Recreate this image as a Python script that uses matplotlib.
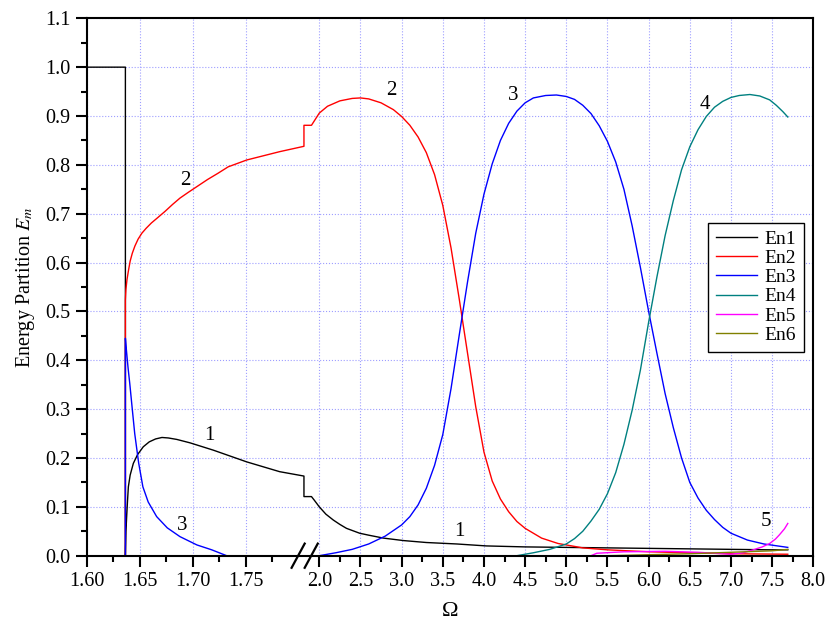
import numpy as np
import matplotlib
matplotlib.use("Agg")
import matplotlib.pyplot as plt
from matplotlib.ticker import FixedLocator

plt.rcParams['font.family'] = ['Liberation Serif', 'DejaVu Serif']
plt.rcParams['mathtext.fontset'] = 'stix'

# --- data ---
en1_x = [1.60, 1.6365, 1.6365, 1.6370, 1.6377, 1.6385, 1.6393, 1.641, 1.644, 1.648, 1.6534,
         1.659, 1.665, 1.671, 1.677, 1.685, 1.6975, 1.7195, 1.751, 1.782, 1.851, 1.851, 1.924,
         1.95, 1.975, 2.0, 2.08, 2.17, 2.25, 2.33, 2.49, 2.6, 2.78, 3.02, 3.30, 3.67, 4.03,
         4.5, 5.0, 5.5, 6.0, 6.5, 7.0, 7.5, 7.69]
en1_y = [1.0, 1.0, 0.0, 0.05, 0.08, 0.112, 0.141, 0.165, 0.189, 0.207, 0.223,
         0.233, 0.239, 0.242, 0.241, 0.238, 0.231, 0.216, 0.192, 0.172, 0.163, 0.121, 0.121,
         0.114, 0.107, 0.10, 0.085, 0.073, 0.064, 0.056, 0.046, 0.042, 0.036, 0.031, 0.027, 0.024, 0.020,
         0.018, 0.017, 0.016, 0.015, 0.014, 0.013, 0.012, 0.012]

en2_x = [1.60, 1.6365, 1.6365, 1.6370, 1.6380, 1.6395, 1.6410, 1.643, 1.6455, 1.6485, 1.652,
         1.656, 1.661, 1.667, 1.674, 1.681, 1.688, 1.696, 1.705, 1.714, 1.724, 1.7335, 1.751,
         1.782, 1.851, 1.851, 1.924, 2.0, 2.1, 2.25, 2.4, 2.5, 2.6, 2.75, 2.9, 3.0, 3.1, 3.2,
         3.3, 3.4, 3.5, 3.6, 3.7, 3.8, 3.9, 4.0, 4.1, 4.2, 4.3, 4.4, 4.5, 4.7, 4.9, 5.2, 5.5,
         6.0, 6.5, 7.0, 7.69]
en2_y = [0.0, 0.0, 0.523, 0.545, 0.565, 0.585, 0.603, 0.619, 0.634, 0.648, 0.660,
         0.670, 0.681, 0.692, 0.705, 0.719, 0.732, 0.744, 0.757, 0.770, 0.783, 0.796, 0.810,
         0.827, 0.838, 0.881, 0.881, 0.906, 0.920, 0.931, 0.936, 0.937, 0.935, 0.927, 0.913, 0.899, 0.881, 0.857,
         0.825, 0.780, 0.717, 0.630, 0.525, 0.415, 0.305, 0.212, 0.153, 0.116, 0.090, 0.070, 0.056, 0.036, 0.025, 0.016, 0.012,
         0.008, 0.006, 0.004, 0.003]

en3_x = [1.60, 1.6365, 1.6365, 1.6375, 1.639, 1.6406, 1.643, 1.6453, 1.649, 1.653, 1.658,
         1.666, 1.676, 1.688, 1.704, 1.718, 1.732, 2.0, 2.2, 2.4, 2.6, 2.8, 3.0, 3.1, 3.2, 3.3,
         3.4, 3.5, 3.6, 3.7, 3.8, 3.9, 4.0, 4.1, 4.2, 4.3, 4.4, 4.5, 4.6, 4.75, 4.88, 5.0, 5.1,
         5.2, 5.3, 5.4, 5.5, 5.6, 5.7, 5.8, 5.9, 6.0, 6.1, 6.2, 6.3, 6.4, 6.5, 6.6, 6.7, 6.8,
         6.9, 7.0, 7.2, 7.4, 7.69]
en3_y = [0.0, 0.0, 0.445, 0.42, 0.385, 0.353, 0.30, 0.25, 0.19, 0.141, 0.11,
         0.08, 0.057, 0.039, 0.022, 0.012, 0.0, 0.0, 0.006, 0.013, 0.024, 0.040, 0.063, 0.080, 0.104, 0.138,
         0.185, 0.248, 0.342, 0.452, 0.560, 0.660, 0.740, 0.802, 0.850, 0.885, 0.910, 0.927, 0.937, 0.942, 0.943, 0.940, 0.934,
         0.922, 0.905, 0.880, 0.848, 0.806, 0.750, 0.675, 0.590, 0.500, 0.415, 0.332, 0.262, 0.200, 0.150, 0.118, 0.093, 0.074,
         0.058, 0.046, 0.032, 0.024, 0.017]

en4_x = [1.60, 4.4, 4.6, 4.8, 5.0, 5.1, 5.2, 5.3, 5.4, 5.5, 5.6, 5.7, 5.8, 5.9, 6.0, 6.1,
         6.2, 6.3, 6.4, 6.5, 6.6, 6.7, 6.8, 6.9, 7.0, 7.1, 7.23, 7.35, 7.47, 7.55, 7.63, 7.69]
en4_y = [0.0, 0.0, 0.006, 0.013, 0.024, 0.035, 0.050, 0.071, 0.095, 0.127, 0.170, 0.228, 0.298, 0.380, 0.478, 0.570,
         0.655, 0.727, 0.790, 0.837, 0.872, 0.899, 0.918, 0.930, 0.938, 0.942, 0.944, 0.941, 0.933, 0.922, 0.909, 0.898]

en5_x = [1.60, 5.30, 5.37, 5.7, 6.2, 6.6, 7.0, 7.15, 7.27, 7.38, 7.47, 7.54, 7.59, 7.65, 7.69]
en5_y = [0.0, 0.0, 0.005, 0.008, 0.009, 0.007, 0.003, 0.006, 0.012, 0.018, 0.025, 0.034, 0.043, 0.055, 0.066]

en6_x = [1.60, 5.5, 6.0, 6.5, 7.0, 7.5, 7.69]
en6_y = [0.0, 0.0, 0.002, 0.004, 0.007, 0.010, 0.013]

series = [("En1", en1_x, en1_y, "black"),
          ("En2", en2_x, en2_y, "red"),
          ("En3", en3_x, en3_y, "blue"),
          ("En4", en4_x, en4_y, "#008080"),
          ("En5", en5_x, en5_y, "magenta"),
          ("En6", en6_x, en6_y, "#808000")]

# curve labels (text, x, y)
curve_labels = [("2", 1.693, 0.768), ("1", 1.716, 0.247), ("3", 1.690, 0.062),
                ("2", 2.88, 0.952), ("3", 4.35, 0.943), ("4", 6.68, 0.923),
                ("1", 3.70, 0.049), ("5", 7.43, 0.07)]

x_major = [1.60, 1.65, 1.70, 1.75, 2.0, 2.5, 3.0, 3.5, 4.0, 4.5, 5.0, 5.5, 6.0, 6.5,
           7.0, 7.5, 8.0]
x_labels = ["1.60", "1.65", "1.70", "1.75", "2.0", "2.5", "3.0", "3.5", "4.0", "4.5",
            "5.0", "5.5", "6.0", "6.5", "7.0", "7.5", "8.0"]
x_minor = [1.625, 1.675, 1.725, 1.775, 2.25, 2.75, 3.25, 3.75, 4.25, 4.75, 5.25, 5.75,
           6.25, 6.75, 7.25, 7.75]

# broken axis: piecewise linear scale
brk_data = [1.60, 1.80, 2.0, 8.0]
brk_pix = [0.0, 212.0, 232.6, 726.6]


def fwd(x):
    return np.interp(x, brk_data, brk_pix)


def inv(u):
    return np.interp(u, brk_pix, brk_data)


fig = plt.figure(figsize=(8.29, 6.25), dpi=100)
ax = fig.add_axes([86.7 / 829, 1 - 555.7 / 625, 726.6 / 829, 537.4 / 625])
ax.set_xscale('function', functions=(fwd, inv))

for name, xs, ys, c in series:
    ax.plot(xs, ys, color=c, lw=1.0, label=name)

for t, x, y in curve_labels:
    ax.text(x, y, t, fontsize=15, ha='center', va='center')

ax.set_xlim(1.60, 8.0)
ax.set_ylim(0, 1.1)
ax.xaxis.set_major_locator(FixedLocator(x_major))
ax.set_xticklabels(x_labels)
ax.xaxis.set_minor_locator(FixedLocator(x_minor))
ax.set_yticks(np.arange(0, 1.11, 0.1))
ax.set_yticklabels([f"{v:.1f}" for v in np.arange(0, 1.11, 0.1)])
ax.set_yticks(np.arange(0.05, 1.1, 0.1), minor=True)

ax.tick_params(which='major', direction='out', length=8, width=1.5, labelsize=14.5,
               top=False, right=False)
ax.tick_params(which='minor', direction='out', length=4, width=1.5, top=False, right=False)
for s in ax.spines.values():
    s.set_linewidth(1.5)

ax.grid(True, which='major', color=(0.62, 0.62, 1.0), linestyle=':', lw=0.8)
ax.set_axisbelow(True)

ax.set_xlabel("Ω", fontsize=16, labelpad=8)
ax.set_ylabel("Energy Partition $E_m$", fontsize=14.5, labelpad=6)

# break marks on the x axis
for xc in (0.291, 0.309):
    ax.plot([xc - 0.009, xc + 0.009], [-0.0225, 0.0225], color='black', lw=1.6,
            transform=ax.transAxes, clip_on=False)

leg = ax.legend(loc='upper right', bbox_to_anchor=(0.987, 0.620), fontsize=14,
                handlelength=2.1, labelspacing=0.08, borderpad=0.4, fancybox=False,
                edgecolor='black', framealpha=1, handletextpad=0.4, borderaxespad=0)
leg.get_frame().set_linewidth(1.0)

fig.savefig("out.png", dpi=100)
